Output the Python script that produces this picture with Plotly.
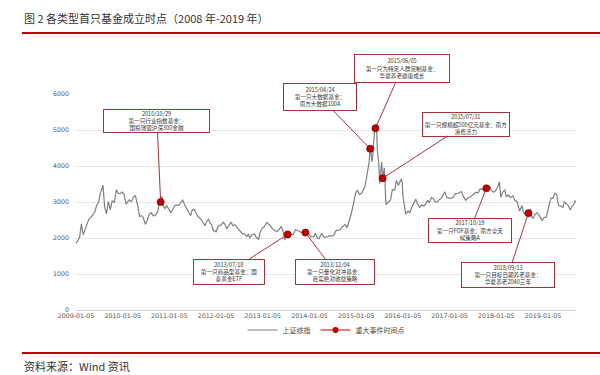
import plotly.graph_objects as go
from datetime import date

# ---------------- data ----------------
sse_dates = [
 "2009-01-05","2009-01-15","2009-02-02","2009-02-16","2009-03-02","2009-03-16","2009-04-01","2009-04-15","2009-05-04","2009-05-15",
 "2009-06-01","2009-06-15","2009-07-01","2009-07-15","2009-08-04","2009-08-17","2009-08-31","2009-09-15","2009-09-30","2009-10-15",
 "2009-11-02","2009-11-16","2009-12-01","2009-12-15","2009-12-31",
 "2010-01-15","2010-02-01","2010-02-25","2010-03-15","2010-04-01","2010-04-15","2010-05-04","2010-05-17","2010-06-01","2010-06-15",
 "2010-07-02","2010-07-15","2010-08-02","2010-08-16","2010-09-01","2010-09-15","2010-10-08","2010-10-15","2010-10-29","2010-11-08","2010-11-16",
 "2010-12-01","2010-12-15","2010-12-31",
 "2011-01-17","2011-02-01","2011-02-15","2011-03-01","2011-03-15","2011-04-01","2011-04-18","2011-05-03","2011-05-16","2011-06-01",
 "2011-06-20","2011-07-01","2011-07-18","2011-08-01","2011-08-15","2011-09-01","2011-09-15","2011-10-10","2011-10-24","2011-11-07",
 "2011-11-21","2011-12-01","2011-12-15","2011-12-30",
 "2012-01-06","2012-01-20","2012-02-15","2012-03-01","2012-03-15","2012-03-28","2012-04-16","2012-05-02","2012-05-16","2012-06-01",
 "2012-06-15","2012-07-02","2012-07-16","2012-08-01","2012-08-15","2012-09-03","2012-09-14","2012-09-26","2012-10-15","2012-11-01",
 "2012-11-15","2012-12-03","2012-12-14","2012-12-31",
 "2013-01-15","2013-02-06","2013-02-20","2013-03-01","2013-03-15","2013-04-01","2013-04-15","2013-05-02","2013-05-15","2013-05-29",
 "2013-06-14","2013-06-25","2013-07-10","2013-07-18","2013-08-01","2013-08-15","2013-09-02","2013-09-16","2013-10-08","2013-10-22",
 "2013-11-05","2013-11-18","2013-12-04","2013-12-16","2013-12-31",
 "2014-01-15","2014-02-07","2014-02-20","2014-03-10","2014-03-20","2014-04-10","2014-04-28","2014-05-15","2014-05-30","2014-06-16",
 "2014-06-30","2014-07-15","2014-07-31","2014-08-15","2014-09-01","2014-09-15","2014-10-08","2014-10-27","2014-11-14","2014-11-28",
 "2014-12-09","2014-12-22","2014-12-31",
 "2015-01-15","2015-01-30","2015-02-16","2015-03-02","2015-03-16","2015-03-31","2015-04-15","2015-04-24","2015-04-27","2015-05-07",
 "2015-05-15","2015-05-27","2015-06-05","2015-06-12","2015-06-19","2015-07-01","2015-07-08","2015-07-23","2015-07-31","2015-08-13",
 "2015-08-26","2015-09-15","2015-09-30","2015-10-15","2015-11-02","2015-11-16","2015-12-01","2015-12-23","2015-12-31",
 "2016-01-07","2016-01-15","2016-01-28","2016-02-15","2016-02-29","2016-03-15","2016-03-31","2016-04-15","2016-04-29","2016-05-16",
 "2016-05-31","2016-06-15","2016-06-30","2016-07-15","2016-07-29","2016-08-15","2016-08-31","2016-09-14","2016-09-30","2016-10-14",
 "2016-10-31","2016-11-15","2016-11-29","2016-12-15","2016-12-30",
 "2017-01-16","2017-02-03","2017-02-20","2017-03-06","2017-03-20","2017-04-07","2017-04-20","2017-05-10","2017-05-25","2017-06-15",
 "2017-06-30","2017-07-14","2017-07-31","2017-08-15","2017-08-31","2017-09-15","2017-09-29","2017-10-19","2017-10-31","2017-11-14",
 "2017-11-28","2017-12-15","2017-12-29",
 "2018-01-15","2018-01-29","2018-02-09","2018-02-26","2018-03-12","2018-03-23","2018-04-10","2018-04-25","2018-05-14","2018-05-30",
 "2018-06-15","2018-06-29","2018-07-06","2018-07-25","2018-08-06","2018-08-20","2018-09-03","2018-09-13","2018-09-27","2018-10-11",
 "2018-10-19","2018-11-05","2018-11-19","2018-12-03","2018-12-14","2018-12-28",
 "2019-01-15","2019-01-31","2019-02-25","2019-03-08","2019-03-22","2019-04-08","2019-04-22","2019-05-06","2019-05-22","2019-06-10",
 "2019-06-20","2019-07-08","2019-07-22","2019-08-06","2019-08-20","2019-09-02","2019-09-12","2019-09-20",
]
sse_values = [
 1850,1920,2010,2390,2090,2220,2400,2520,2580,2650,
 2720,2900,3000,3250,3470,2870,2670,3010,2780,3030,
 3000,3340,3240,3230,3277,
 3220,2940,3060,3010,3150,3170,2870,2600,2620,2570,
 2380,2480,2670,2700,2620,2620,2740,2970,3000,3160,2890,
 2820,2900,2808,
 2700,2800,2900,2920,2900,2970,3060,2930,2850,2740,
 2620,2760,2800,2700,2610,2550,2490,2340,2460,2520,
 2400,2380,2200,2199,
 2160,2320,2370,2440,2380,2250,2370,2440,2340,2370,
 2300,2220,2170,2110,2110,2040,2120,2000,2100,2100,
 2020,1960,2150,2269,
 2310,2430,2380,2360,2280,2240,2190,2190,2240,2320,
 2160,1950,2070,2100,2030,2100,2100,2230,2200,2180,
 2150,2200,2150,2160,2116,
 2030,2040,2130,1990,1980,2130,2020,2030,2040,2070,
 2050,2080,2200,2220,2230,2290,2380,2290,2480,2680,
 2860,3130,3235,
 3330,3210,3250,3330,3450,3750,4080,4480,4530,4110,
 4310,4940,5050,5170,4480,4050,3510,4120,3660,3950,
 2930,3010,3050,3340,3330,3600,3460,3640,3539,
 3120,2900,2660,2750,2690,2860,3000,3080,2940,2850,
 2920,2890,2930,3050,2980,3120,3090,3000,3000,3060,
 3100,3200,3280,3120,3104,
 3100,3140,3240,3230,3250,3290,3170,3050,3110,3130,
 3190,3220,3270,3250,3360,3350,3350,3380,3390,3430,
 3320,3270,3307,
 3410,3560,3130,3290,3330,3150,3190,3120,3170,3040,
 3020,2850,2750,2900,2700,2660,2720,2690,2800,2580,
 2550,2660,2700,2650,2590,2490,
 2570,2580,2960,3100,3100,3240,3210,2910,2890,2850,
 3000,2930,2900,2780,2880,2920,3030,3000,
]

event_dates = ["2010-10-29","2013-07-18","2013-12-04","2015-04-24","2015-06-05","2015-07-31","2017-10-19","2018-09-13"]
event_values = [3000, 2100, 2150, 4480, 5050, 3660, 3380, 2690]
event_texts = [
 "2010/10/29<br>第一只行业指数基金：<br>国投瑞银沪深300金融",
 "2013/07/18<br>第一只商品型基金：国<br>泰黄金ETF",
 "2013/12/04<br>第一只量化对冲基金：<br>嘉实绝对收益策略",
 "2015/04/24<br>第一只大数据基金：<br>南方大数据100A",
 "2015/06/05<br>第一只为特定人群定制基金：<br>华夏养老健康成长",
 "2015/07/31<br>第一只规模超500亿元基金：南方<br>消费活力",
 "2017/10/19<br>第一只FOF基金：南方全天<br>候策略A",
 "2018/09/13<br>第一只目标日期养老基金：<br>华夏养老2040三年",
]
tick_vals = ["2009-01-05","2010-01-05","2011-01-05","2012-01-05","2013-01-05","2014-01-05",
             "2015-01-05","2016-01-05","2017-01-05","2018-01-05","2019-01-05"]
y_ticks = [0, 1000, 2000, 3000, 4000, 5000, 6000]

# ---------------- layout geometry (pixels) ----------------
W, H = 600, 375
L, R, T, B = 76, 24, 94, 65
x0, x1 = "2009-01-05", "2019-09-20"
y_max = 6000
# box centres and sizes in page pixels
box_geom = [
 (157, 121, 107, 24),
 (229, 272, 72, 26),
 (335, 272, 80, 26),
 (320, 97, 74, 28),
 (402, 68, 96, 29),
 (466, 124, 88, 25),
 (470, 230, 84, 25),
 (508, 275, 94, 26),
]

def d(s):
    return date.fromisoformat(s)

span_days = (d(x1) - d(x0)).days
pw = W - L - R
ph = H - T - B

def px_x(s):
    return L + (d(s) - d(x0)).days / span_days * pw

def px_y(v):
    return T + ph - v / y_max * ph

def paper_x(px):
    return (px - L) / pw

def paper_y(py):
    return (H - B - py) / ph

grey = "#7f7f7f"
red = "#c00000"
darkred = "#a8323a"
font_cjk = "Noto Sans CJK SC"

fig = go.Figure()
fig.add_trace(go.Scatter(x=sse_dates, y=sse_values, mode="lines", name="上证综指",
                         line=dict(color=grey, width=1.2)))
fig.add_trace(go.Scatter(x=event_dates, y=event_values, mode="markers", showlegend=False,
                         marker=dict(color=red, size=7, line=dict(color="#7a0000", width=0.8))))
fig.add_trace(go.Scatter(x=[None], y=[None], mode="lines+markers", name="重大事件时间点",
                         line=dict(color=red, width=1.2),
                         marker=dict(color=red, size=6)))

annotations = []
for dt, v, txt, (cx, cy, bw, bh) in zip(event_dates, event_values, event_texts, box_geom):
    annotations.append(dict(
        x=dt, y=v, xref="x", yref="y", text=txt, showarrow=True,
        ax=cx - px_x(dt), ay=cy - px_y(v), axref="pixel", ayref="pixel",
        arrowhead=0, arrowwidth=1, arrowcolor=darkred, standoff=3,
        bgcolor="white", bordercolor=darkred, borderwidth=1, borderpad=1,
        width=bw - 4, height=bh - 4, align="center", valign="middle",
        font=dict(size=5.6, color="#333333", family=font_cjk)))

annotations.append(dict(x=paper_x(22), y=paper_y(18), xref="paper", yref="paper", xanchor="left", yanchor="middle",
                        showarrow=False, text="图 2 各类型首只基金成立时点（2008 年-2019 年）",
                        font=dict(size=11, color="#333333", family=font_cjk)))
annotations.append(dict(x=paper_x(22), y=paper_y(366), xref="paper", yref="paper", xanchor="left", yanchor="middle",
                        showarrow=False, text="资料来源：Wind 资讯",
                        font=dict(size=11, color="#333333", family=font_cjk)))

shapes = [
    dict(type="line", xref="paper", yref="paper", x0=paper_x(22), x1=paper_x(600),
         y0=paper_y(33), y1=paper_y(33), line=dict(color=red, width=2)),
    dict(type="line", xref="paper", yref="paper", x0=paper_x(22), x1=paper_x(600),
         y0=paper_y(353), y1=paper_y(353), line=dict(color=red, width=2)),
]

fig.update_layout(
    width=W, height=H, margin=dict(l=L, r=R, t=T, b=B, autoexpand=False),
    paper_bgcolor="white", plot_bgcolor="white",
    font=dict(family=font_cjk, color="#555555"),
    showlegend=True,
    legend=dict(orientation="h", x=0.5, xanchor="center", y=paper_y(330), yanchor="middle",
                font=dict(size=7, color="#444444", family=font_cjk), itemwidth=30,
                bgcolor="rgba(0,0,0,0)"),
    annotations=annotations, shapes=shapes,
    xaxis=dict(type="date", range=[x0, x1], tickvals=tick_vals, ticktext=tick_vals,
               showgrid=False, showline=False, zeroline=False, ticks="",
               tickfont=dict(size=6.3, color="#555555", family="DejaVu Sans"), tickangle=0,
               ticklabelstandoff=1),
    yaxis=dict(range=[0, y_max], tickvals=y_ticks, showgrid=True, gridcolor="#e6e6e6", gridwidth=1,
               zeroline=True, zerolinecolor="#d0d0d0", zerolinewidth=1, showline=False, ticks="",
               tickfont=dict(size=6.3, color="#555555", family="DejaVu Sans"), ticklabelstandoff=6),
)

fig.write_html("out.html", config={"displayModeBar": False},
               post_script="document.body.style.margin='0px';document.body.style.padding='0px';")
